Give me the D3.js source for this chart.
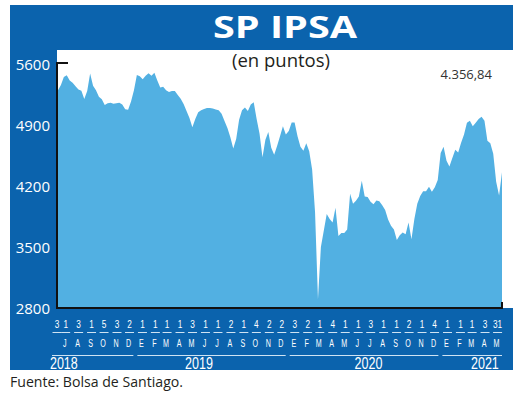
<!DOCTYPE html>
<html>
<head>
<meta charset="utf-8">
<script src="https://cdn.jsdelivr.net/npm/d3@7"></script>
<style>
  body { margin: 0; background: #fff; }
  svg { display: block; }
</style>
</head>
<body>
<div id="chart"></div>
<script>
// Weekly closes of the IPSA (July 2018 - May 2021)
var ipsa = [5300,5360,5450,5470,5410,5385,5345,5308,5293,5197,
  5290,5490,5350,5300,5225,5195,5130,5150,5155,5145,
  5150,5155,5135,5080,5075,5170,5300,5475,5460,5425,
  5465,5495,5465,5500,5410,5330,5340,5300,5280,5290,
  5290,5245,5200,5140,5060,4980,4875,4970,5045,5070,
  5085,5095,5095,5090,5078,5068,5030,4945,4865,4760,
  4630,4740,4960,5070,5100,5062,5135,5160,4970,4800,
  4530,4730,4820,4640,4560,4660,4770,4885,4790,4830,
  4930,4930,4770,4650,4605,4690,4600,4390,3900,2900,
  3500,3690,3880,3820,3780,3950,3625,3660,3660,3700,
  4110,3995,4030,4080,4260,4080,4075,4020,3990,4035,
  4025,3980,3925,3815,3745,3700,3580,3635,3665,3645,
  3780,3590,3820,3995,4085,4140,4140,4190,4135,4185,
  4270,4580,4650,4490,4425,4520,4615,4585,4695,4790,
  4925,4950,4885,4925,4970,4995,4950,4720,4690,4570,
  4250,4090,4357];

var startDate = new Date(2018, 6, 2);
var endDate = new Date(2021, 4, 31);

var dayLabels = ["3","1","3","1","5","3","2","1","1","1","1","3","1","1","2","1","4","2",
  "2","3","2","1","4","1","1","3","1","1","2","1","4","1","1","1","3","31"];
var monthLabels = ["J","A","S","O","N","D",
  "E","F","M","A","M","J","J","A","S","O","N","D",
  "E","F","M","A","M","J","J","A","S","O","N","D",
  "E","F","M","A","M"];
var years = ["2018", "2019", "2020", "2021"];
var yTicks = [2800, 3500, 4200, 4900, 5600];
var lastValue = "4.356,84";

// Layout
var svgWidth = 520;
var svgHeight = 396;
var plot = { left: 57, right: 502, top: 64, bottom: 308 };
var frameBlue = "#0b63ad";
var fillBlue = "#52b0e2";

var svg = d3.select("#chart")
  .append("svg")
  .attr("width", svgWidth)
  .attr("height", svgHeight);

// Blue frame and white plot panel
svg.append("rect")
  .attr("x", 10).attr("y", 5)
  .attr("width", 503).attr("height", 365)
  .attr("fill", frameBlue);

svg.append("rect")
  .attr("x", plot.left).attr("y", 50)
  .attr("width", 513 - plot.left).attr("height", plot.bottom - 50)
  .attr("fill", "#fff");

// Scales
var dates = d3.timeDay.range(startDate, d3.timeDay.offset(endDate, 1), 7);
var data = dates.map(function(d, i) { return { date: d, value: ipsa[i] }; });

var x = d3.scaleTime()
  .domain([startDate, endDate])
  .range([plot.left + 1, plot.right]);

var y = d3.scaleLinear()
  .domain([2800, 5600])
  .range([plot.bottom, plot.top]);

// Area
var area = d3.area()
  .x(function(d) { return x(d.date); })
  .y0(y(2800))
  .y1(function(d) { return y(d.value); });

svg.append("path")
  .datum(data)
  .attr("d", area)
  .attr("fill", fillBlue);

// Y axis labels
var leftAxis = d3.axisLeft(y)
  .tickValues(yTicks)
  .tickSize(0)
  .tickPadding(7)
  .tickFormat(d3.format("d"));

var yAxisG = svg.append("g")
  .attr("transform", "translate(" + plot.left + ",0)")
  .call(leftAxis);
yAxisG.select(".domain").remove();
yAxisG.selectAll("text")
  .attr("fill", "#fff")
  .attr("font-family", "'Open Sans', sans-serif")
  .attr("font-size", "15px")
  .attr("dy", "0.36em");

// Axis frame lines (black), with small hooks at the ends
svg.append("path")
  .attr("d", "M" + (plot.left + 11) + "," + (y(5600) - 1) +
    "H" + plot.left + "V" + plot.bottom + "H" + plot.right + "V" + (plot.bottom - 6))
  .attr("fill", "none")
  .attr("stroke", "#111")
  .attr("stroke-width", 2);

// X axis: day numbers, month letters, years (narrow lettering)
var months = d3.timeMonth.range(new Date(2018, 6, 1), new Date(2021, 5, 1));
var monthX = months.map(function(m) { return x(d3.timeDay.offset(m, 17)); });
var dayX = dayLabels.map(function(d, i) {
  return i === 0 ? x(startDate) - 1 : monthX[i - 1] + 1;
});

var axisFont = "'Liberation Sans', Arial, sans-serif";

function narrowText(g, labels, xs, yPos, size, squeeze) {
  g.selectAll("text")
    .data(labels)
    .enter()
    .append("text")
    .attr("transform", function(d, i) {
      return "translate(" + xs[i] + "," + yPos + ") scale(" + squeeze + ",1)";
    })
    .attr("text-anchor", "middle")
    .attr("fill", "#fff")
    .attr("font-family", axisFont)
    .attr("font-size", size)
    .text(function(d) { return d; });
}

narrowText(svg.append("g"), dayLabels, dayX, 328, "11.5px", 0.72);

svg.append("g").selectAll("line")
  .data(dayLabels)
  .enter()
  .append("line")
  .attr("x1", function(d, i) { return dayX[i] - 4.5; })
  .attr("x2", function(d, i) { return dayX[i] + 4.5; })
  .attr("y1", 332.5).attr("y2", 332.5)
  .attr("stroke", "#cfe3f3")
  .attr("stroke-width", 1);

narrowText(svg.append("g"), monthLabels, monthX, 347, "11.5px", 0.62);

var yearStarts = years.map(function(yr) { return new Date(+yr, 0, 1); });
var yearLabelAt = [new Date(2018, 6, 16), new Date(2019, 5, 5), new Date(2020, 6, 15), new Date(2021, 3, 20)];

svg.append("g").selectAll("line")
  .data(years)
  .enter()
  .append("line")
  .attr("x1", function(d, i) { return i === 0 ? 52 : x(yearStarts[i]) + 3; })
  .attr("x2", function(d, i) {
    return i === years.length - 1 ? plot.right : x(yearStarts[i + 1]) - 1;
  })
  .attr("y1", 355.5).attr("y2", 355.5)
  .attr("stroke", "#cfe3f3")
  .attr("stroke-width", 1);

narrowText(svg.append("g"), years, yearLabelAt.map(x), 369, "16.5px", 0.76);

// Titles and notes
svg.append("text")
  .attr("x", 285).attr("y", 38)
  .attr("text-anchor", "middle")
  .attr("fill", "#fff")
  .attr("font-family", "'Open Sans', sans-serif")
  .attr("font-weight", 700)
  .attr("font-size", "30px")
  .attr("textLength", 144)
  .attr("lengthAdjust", "spacingAndGlyphs")
  .text("SP IPSA");

svg.append("text")
  .attr("x", 281).attr("y", 67)
  .attr("text-anchor", "middle")
  .attr("fill", "#231f20")
  .attr("font-family", "'Open Sans', sans-serif")
  .attr("font-size", "18.5px")
  .text("(en puntos)");

svg.append("text")
  .attr("x", 492).attr("y", 79)
  .attr("text-anchor", "end")
  .attr("fill", "#333")
  .attr("font-family", "'Open Sans', sans-serif")
  .attr("font-size", "13px")
  .text(lastValue);

svg.append("text")
  .attr("x", 10).attr("y", 387)
  .attr("fill", "#231f20")
  .attr("font-family", "'Open Sans', sans-serif")
  .attr("font-size", "14.5px")
  .attr("textLength", 173)
  .attr("lengthAdjust", "spacingAndGlyphs")
  .text("Fuente: Bolsa de Santiago.");
</script>
</body>
</html>
